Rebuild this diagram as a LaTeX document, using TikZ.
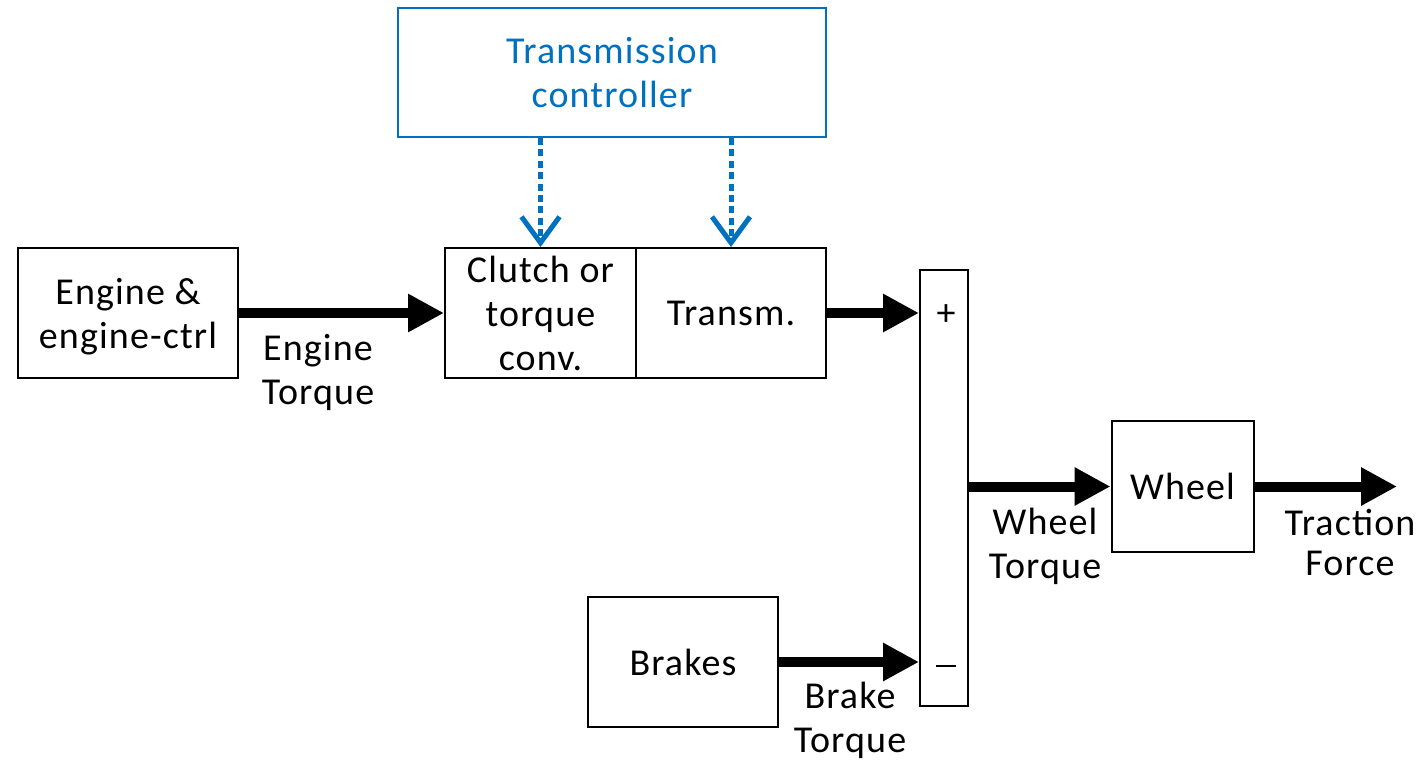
\documentclass[tikz,border=0pt]{standalone}
\usepackage{fontspec}
\setmainfont[LetterSpace=3]{Carlito}
\usetikzlibrary{arrows.meta}
\definecolor{ctrlblue}{RGB}{0,112,192}
\begin{document}
\begin{tikzpicture}[x=0.5pt,y=-0.5pt,
  font=\fontsize{19}{22}\selectfont,
  blk/.style={draw=black,line width=1pt,inner sep=0pt,align=center,text depth=0pt},
  lbl/.style={inner sep=0pt,align=center,yshift=-1.5pt},
  sig/.style={line width=5pt,-{Triangle[length=18pt,width=18pt]}},
  ctl/.style={draw=ctrlblue,line width=2.5pt,dash pattern=on 3.5pt off 2.2pt,
    -{Straight Barb[length=13pt,width=19pt,line width=2.5pt]}}]
\useasboundingbox (0,0) rectangle (1424,761);
\node[blk,draw=ctrlblue,text=ctrlblue,minimum width=214pt,minimum height=64.5pt] (ctrl) at (612,72.5) {Transmission\\controller};
\node[blk,minimum width=110pt,minimum height=65pt] (eng) at (128,313) {Engine \&\\engine-ctrl};
\node[blk,minimum width=95.5pt,minimum height=65pt] (clutch) at (540.5,313) {Clutch or\\torque\\conv.};
\node[blk,minimum width=95pt,minimum height=65pt] (trans) at (731,313) {Transm.};
\node[blk,minimum width=24pt,minimum height=218pt] (sum) at (944,488) {};
\node[lbl] (plus) at (946,312) {+};
\node[inner sep=0pt] (minus) at (946,666) {\rule{10pt}{1.1pt}};
\node[blk,minimum width=71pt,minimum height=65.5pt] (wheel) at (1182.5,486.5) {Wheel};
\node[blk,minimum width=95pt,minimum height=65pt] (brk) at (683,662) {Brakes};
\coordinate (out) at (1397,486.5);
\draw[sig] (eng.east) -- (clutch.west);
\draw[sig] (trans.east) -- (trans.east -| sum.west);
\draw[sig] (brk.east) -- (brk.east -| sum.west);
\draw[sig] (sum.east |- wheel.west) -- (wheel.west);
\draw[sig] (wheel.east) -- (out);
\draw[ctl] (ctrl.south -| clutch.north) -- (clutch.north);
\draw[ctl] (ctrl.south -| trans.north) -- (trans.north);
\node[lbl] (lengt) at (318,369) {Engine\\Torque};
\node[lbl] (lwt) at (1045,543) {Wheel\\Torque};
\node[lbl,font=\fontsize{19}{20}\selectfont] (ltf) at (1350,539) {Traction\\Force};
\node[lbl] (lbt) at (850,717) {Brake\\Torque};
\end{tikzpicture}
\end{document}
